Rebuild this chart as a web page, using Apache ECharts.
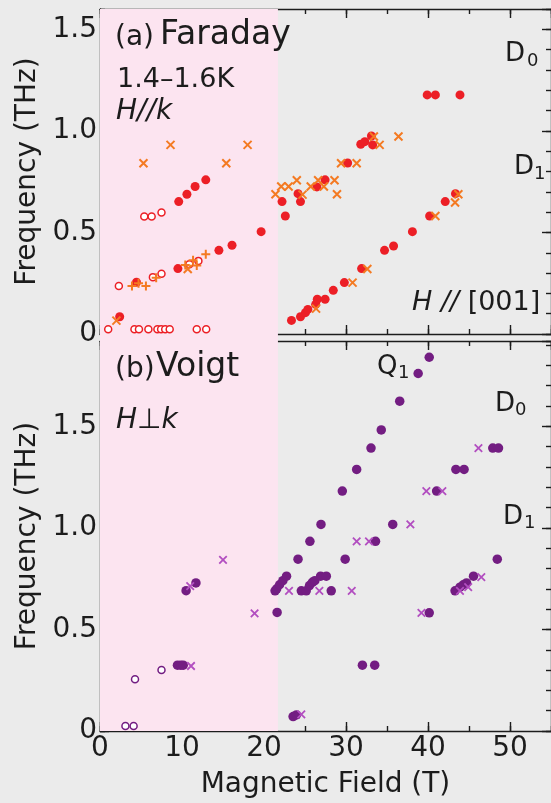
<!DOCTYPE html>
<html>
<head>
<meta charset="utf-8">
<script src="https://cdn.jsdelivr.net/npm/echarts@6/dist/echarts.min.js"></script>
<style>
  html, body { margin: 0; padding: 0; background: #ebebeb; }
  #chart { width: 551px; height: 803px; }
</style>
</head>
<body>
<div id="chart"></div>
<script>
// Field range (T) and the low-field region shaded in pink
const fieldMax = 55;
const shadedField = [0, 21.7];
const freqMaxFaraday = 1.6;
const freqMaxVoigt = 1.92;

// (a) Faraday geometry, H // k — [field (T), frequency (THz)]
const faradayFilled = [
  [2.4, 0.085], [4.45, 0.255], [9.5, 0.322], [14.5, 0.412], [16.1, 0.437], [19.65, 0.504],
  [9.6, 0.652], [10.6, 0.688], [11.6, 0.726], [12.9, 0.759],
  [22.2, 0.652], [22.6, 0.581], [24.15, 0.691], [24.45, 0.652], [26.45, 0.724], [27.45, 0.759], [30.2, 0.842],
  [31.8, 0.934], [32.3, 0.947], [33.1, 0.975], [33.25, 0.931],
  [39.9, 1.177], [40.9, 1.177], [43.9, 1.177],
  [23.35, 0.067], [24.45, 0.085], [25.05, 0.105], [25.35, 0.121], [26.3, 0.146], [26.5, 0.171],
  [27.45, 0.171], [28.45, 0.215], [29.8, 0.253], [31.9, 0.322], [34.7, 0.412], [35.8, 0.433],
  [38.1, 0.504], [40.2, 0.581], [42.1, 0.652], [43.35, 0.691]
];
const faradayOpen = [
  [1.0, 0.023], [4.2, 0.023], [4.75, 0.023], [5.9, 0.023], [7.0, 0.023], [7.45, 0.023],
  [7.95, 0.023], [8.5, 0.023], [11.8, 0.023], [12.95, 0.023],
  [2.3, 0.236], [6.45, 0.28], [7.5, 0.297], [10.9, 0.343], [12.0, 0.36],
  [5.4, 0.578], [6.3, 0.578], [7.5, 0.598]
];
const faradayCross = [
  [2.0, 0.066], [5.3, 0.841], [8.6, 0.931], [15.4, 0.841], [18.0, 0.931], [10.7, 0.32],
  [21.4, 0.688], [22.1, 0.726], [23.0, 0.726], [24.0, 0.757], [24.7, 0.686], [25.7, 0.726],
  [26.6, 0.757], [27.3, 0.726], [28.6, 0.757], [28.9, 0.688], [29.4, 0.841], [31.3, 0.841],
  [33.4, 0.972], [34.1, 0.931], [36.4, 0.972],
  [26.35, 0.125], [30.8, 0.253], [32.6, 0.32], [40.9, 0.581], [43.3, 0.647], [43.7, 0.688]
];
const faradayPlus = [
  [3.9, 0.236], [4.7, 0.25], [5.6, 0.236], [6.85, 0.277],
  [10.4, 0.34], [11.35, 0.363], [11.8, 0.337], [12.9, 0.393]
];

// (b) Voigt geometry, H ⊥ k — [field (T), frequency (THz)]
const voigtFilled = [
  [9.45, 0.324], [9.85, 0.324], [10.15, 0.324], [10.5, 0.691], [11.7, 0.729],
  [21.6, 0.584], [21.35, 0.69], [21.55, 0.70], [21.9, 0.72], [22.3, 0.74], [22.75, 0.762],
  [24.15, 0.846], [25.6, 0.934], [26.95, 1.017], [29.55, 1.181], [31.3, 1.288], [33.05, 1.393],
  [34.3, 1.482], [36.55, 1.624], [38.8, 1.76], [40.15, 1.84],
  [24.55, 0.69], [25.15, 0.69], [25.55, 0.716], [25.9, 0.732], [26.2, 0.74], [26.9, 0.762],
  [27.6, 0.762], [28.2, 0.69],
  [29.9, 0.846], [33.6, 0.934], [35.7, 1.017], [41.05, 1.181], [43.4, 1.288], [44.4, 1.288],
  [47.9, 1.393], [48.6, 1.393],
  [48.45, 0.846], [45.55, 0.762], [44.7, 0.729], [44.3, 0.72], [43.9, 0.708], [43.3, 0.69], [40.15, 0.582],
  [32.0, 0.324], [33.5, 0.324], [23.55, 0.071], [23.95, 0.079]
];
const voigtOpen = [
  [3.1, 0.025], [4.1, 0.025], [4.27, 0.255], [7.5, 0.30]
];
const voigtCross = [
  [11.1, 0.32], [11.0, 0.713], [15.0, 0.842], [18.85, 0.579],
  [23.05, 0.69], [26.75, 0.69], [30.7, 0.69], [31.3, 0.934], [32.8, 0.934], [37.85, 1.017],
  [39.8, 1.181], [41.75, 1.181], [46.15, 1.393], [39.2, 0.582], [46.5, 0.757], [44.9, 0.708],
  [43.9, 0.69], [24.55, 0.082]
];

const FONT = 'DejaVu Sans';
const INK = '#1c1c1c';
const RED = '#ec1f26';
const ORANGE = '#f47a22';
const PURPLE = '#731d82';
const MAGENTA = '#b24ec0';
const PINK = '#fce4f0';

const lineStyle = { color: INK, width: 1.4 };

function xPair(grid, pos, withLabels) {
  const base = {
    gridIndex: grid, type: 'value', min: 0, max: fieldMax, position: pos,
    splitLine: { show: false }, axisLabel: { show: false }
  };
  const minor = Object.assign({}, base, {
    interval: 5,
    axisLine: { show: true, onZero: false, lineStyle: lineStyle },
    axisTick: { show: true, inside: true, length: 5, lineStyle: lineStyle }
  });
  const major = Object.assign({}, base, {
    interval: 10,
    axisLine: { show: false, onZero: false },
    axisTick: { show: true, inside: true, length: 9, lineStyle: lineStyle }
  });
  if (withLabels) {
    major.axisLabel = { show: true, showMaxLabel: false, margin: 4, color: INK, fontFamily: FONT, fontSize: 28 };
    major.name = 'Magnetic Field (T)';
    major.nameLocation = 'middle';
    major.nameGap = 40;
    major.nameTextStyle = { color: INK, fontFamily: FONT, fontSize: 28 };
  }
  return [minor, major];
}

function yPair(grid, pos, max, withLabels) {
  const base = {
    gridIndex: grid, type: 'value', min: 0, max: max, position: pos,
    splitLine: { show: false }, axisLabel: { show: false }
  };
  const minor = Object.assign({}, base, {
    interval: 0.1,
    axisLine: { show: true, onZero: false, lineStyle: lineStyle },
    axisTick: { show: true, inside: true, length: 5, lineStyle: lineStyle }
  });
  const major = Object.assign({}, base, {
    interval: 0.5,
    axisLine: { show: false, onZero: false },
    axisTick: { show: true, inside: true, length: 9, lineStyle: lineStyle }
  });
  if (withLabels) {
    major.axisLabel = {
      show: true, showMaxLabel: false, margin: 3, color: INK, fontFamily: FONT, fontSize: 28,
      formatter: v => (v === 0 ? '0' : v.toFixed(1))
    };
    major.name = 'Frequency (THz)';
    major.nameLocation = 'middle';
    major.nameGap = 55;
    major.nameRotate = 90;
    major.nameTextStyle = { color: INK, fontFamily: FONT, fontSize: 28 };
  }
  return [minor, major];
}

const xAxes = [].concat(
  xPair(0, 'bottom', false), xPair(0, 'top', false),
  xPair(1, 'bottom', true), xPair(1, 'top', false),
  [{ gridIndex: 2, type: 'value', min: 0, max: fieldMax, show: false }]
);
const yAxes = [].concat(
  yPair(0, 'left', freqMaxFaraday, true), yPair(0, 'right', freqMaxFaraday, false),
  yPair(1, 'left', freqMaxVoigt, true), yPair(1, 'right', freqMaxVoigt, false),
  [{ gridIndex: 2, type: 'value', min: 0, max: 1, show: false }]
);

// series helpers: axis 1 / 5 are the major x axes of panels a / b, likewise for y
function dots(data, panel, color, size) {
  return {
    type: 'scatter', data: data, xAxisIndex: panel ? 5 : 1, yAxisIndex: panel ? 5 : 1,
    symbol: 'circle', symbolSize: size, z: 3,
    itemStyle: { color: color, opacity: 1 }
  };
}
function rings(data, panel, color) {
  return {
    type: 'scatter', data: data, xAxisIndex: panel ? 5 : 1, yAxisIndex: panel ? 5 : 1,
    symbol: 'circle', symbolSize: 7, z: 2,
    itemStyle: { color: '#ffffff', borderColor: color, borderWidth: 1.5, opacity: 1 }
  };
}
function strokes(data, panel, color, path, size, width) {
  return {
    type: 'scatter', data: data, xAxisIndex: panel ? 5 : 1, yAxisIndex: panel ? 5 : 1,
    symbol: path, symbolSize: size, z: 4,
    itemStyle: { color: 'rgba(0,0,0,0)', borderColor: color, borderWidth: width, opacity: 1 }
  };
}
const CROSS = 'path://M0,0L10,10M10,0L0,10';
const PLUS = 'path://M5,0L5,10M0,5L10,5';

function txt(x, baseline, text, size, italic) {
  return {
    type: 'text', z: 10, silent: true,
    style: {
      x: x, y: baseline - 0.31 * size, text: text,
      font: (italic ? 'italic ' : '') + size + 'px "' + FONT + '"',
      fill: INK, align: 'left', verticalAlign: 'middle',
      textAlign: 'left', textVerticalAlign: 'middle'
    }
  };
}
function richTxt(x, baseline, text, size) {
  const t = txt(x, baseline, text, size, false);
  t.style.rich = {
    i: { font: 'italic ' + size + 'px "' + FONT + '"', fill: INK },
    n: { font: size + 'px "' + FONT + '"', fill: INK }
  };
  return t;
}

const option = {
  backgroundColor: '#ebebeb',
  animation: false,
  grid: [
    { left: 100, top: 9, width: 455, height: 325 },
    { left: 100, top: 341, width: 455, height: 390 },
    { left: 100, top: 9, width: 455, height: 722 }
  ],
  xAxis: xAxes,
  yAxis: yAxes,
  series: [
    {
      type: 'scatter', data: [], xAxisIndex: 8, yAxisIndex: 8, z: 0, silent: true,
      markArea: {
        silent: true, itemStyle: { color: PINK },
        data: [[{ xAxis: shadedField[0] }, { xAxis: shadedField[1] }]]
      }
    },
    rings(faradayOpen, 0, RED),
    dots(faradayFilled, 0, RED, 9),
    strokes(faradayPlus, 0, ORANGE, PLUS, 9, 2),
    strokes(faradayCross, 0, ORANGE, CROSS, 8, 2),
    rings(voigtOpen, 1, PURPLE),
    dots(voigtFilled, 1, PURPLE, 9.5),
    strokes(voigtCross, 1, MAGENTA, CROSS, 7.5, 1.8)
  ],
  graphic: [
    txt(115, 46, '(a)', 28, false),
    txt(160, 46, 'Faraday', 33, false),
    txt(117, 88, '1.4\u20131.6K', 27, false),
    txt(116, 120, 'H//k', 28, true),
    txt(505, 62, 'D', 26, false),
    txt(527, 67, '0', 18, false),
    txt(514, 175, 'D', 26, false),
    txt(534, 180, '1', 18, false),
    richTxt(412, 311, '{i|H //} {n|[001]}', 27),
    txt(115, 378, '(b)', 28, false),
    txt(156, 378, 'Voigt', 33, false),
    richTxt(116, 429, '{i|H}{n|\u22a5}{i|k}', 28),
    txt(377, 375, 'Q', 26, false),
    txt(398, 379, '1', 18, false),
    txt(495, 412, 'D', 26, false),
    txt(515, 416, '0', 18, false),
    txt(503, 525, 'D', 26, false),
    txt(524, 529, '1', 18, false)
  ]
};

const chart = echarts.init(document.getElementById('chart'), null, { renderer: 'canvas' });
chart.setOption(option);
</script>
</body>
</html>
